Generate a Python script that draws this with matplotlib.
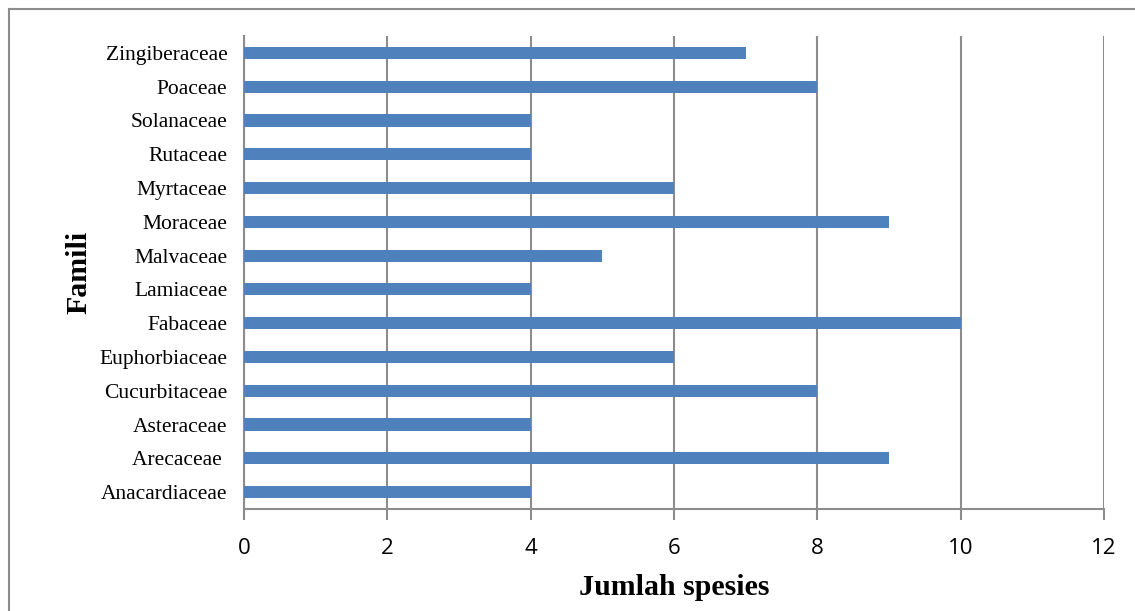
import matplotlib
matplotlib.use("Agg")
import matplotlib.pyplot as plt
from matplotlib.lines import Line2D
import numpy as np

# Data (bottom to top as drawn)
families = ["Anacardiaceae", "Arecaceae ", "Asteraceae", "Cucurbitaceae", "Euphorbiaceae",
            "Fabaceae", "Lamiaceae", "Malvaceae", "Moraceae", "Myrtaceae",
            "Rutaceae", "Solanaceae", "Poaceae", "Zingiberaceae"]
species_count = [4, 9, 4, 8, 6, 10, 4, 5, 9, 6, 4, 4, 8, 7]
x_ticks = [0, 2, 4, 6, 8, 10, 12]

grid_color = "#8c8c8c"
bar_color = "#4f81bd"

fig = plt.figure(figsize=(11.35, 6.11), dpi=100)
ax = fig.add_axes([244 / 1135, 1 - 509 / 611, 860 / 1135, 473 / 611])

y = np.arange(len(families))
ax.barh(y, species_count, height=0.36, color=bar_color, zorder=3)

ax.set_xlim(0, 12)
ax.set_ylim(-0.5, len(families) - 0.5)
ax.set_xticks(x_ticks)
ax.set_xticklabels([str(t) for t in x_ticks], fontsize=16, family="Open Sans")
ax.set_yticks(y)
ax.set_yticklabels(families, fontsize=15.5, family="Liberation Serif")

ax.grid(axis="x", color=grid_color, linewidth=1.5, zorder=0)
for side in ["top", "right"]:
    ax.spines[side].set_visible(False)
for side in ["left", "bottom"]:
    ax.spines[side].set_color(grid_color)
    ax.spines[side].set_linewidth(1.5)
ax.tick_params(axis="x", length=8, width=1.5, color=grid_color, pad=13)
ax.tick_params(axis="y", length=0, pad=12)

ax.set_xlabel("Jumlah spesies", fontsize=21.5, fontweight="bold", family="Liberation Serif", labelpad=11)
ax.set_ylabel("Famili", fontsize=21.5, fontweight="bold", family="Liberation Serif", labelpad=5)

# outer chart border (only top and left edges visible in the crop)
x0, y0 = 8.5 / 1135, 1 - 8.5 / 611
fig.lines.append(Line2D([x0, 1], [y0, y0], transform=fig.transFigure, color=grid_color, linewidth=1.5))
fig.lines.append(Line2D([x0, x0], [0, y0], transform=fig.transFigure, color=grid_color, linewidth=1.5))

fig.savefig("out.png", dpi=100)
